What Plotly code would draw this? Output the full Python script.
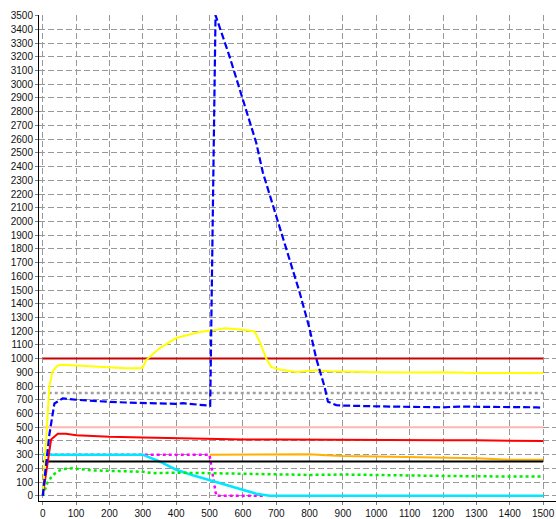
import plotly.graph_objects as go

# ---- data ----
limit_x = [0, 1500]
limit_1000 = [1000, 1000]
limit_750 = [750, 750]
limit_500 = [500, 500]
limit_250 = [250, 250]

orange_x = [500, 800, 850, 900, 1000, 1100, 1200, 1300, 1400, 1500]
orange_y = [300, 302, 295, 290, 286, 281, 278, 274, 262, 262]

magenta_x = [0, 300, 500, 503, 520, 660]
magenta_y = [300, 300, 300, 250, 0, 0]

cyan_x = [0, 300, 350, 400, 450, 500, 550, 600, 640, 680, 1500]
cyan_y = [300, 300, 250, 190, 150, 115, 75, 40, 15, 0, 0]

yellow_x = [0, 10, 20, 30, 45, 60, 100, 150, 200, 250, 290, 300, 310, 330, 350,
            400, 450, 470, 510, 545, 600, 635, 650, 670, 685, 710, 760, 820, 860,
            900, 1000, 1100, 1200, 1300, 1400, 1500]
yellow_y = [0, 450, 800, 910, 950, 956, 950, 945, 940, 930, 930, 935, 990, 1035, 1075,
            1150, 1185, 1194, 1206, 1222, 1211, 1198, 1125, 1000, 940, 920, 903, 915, 908,
            905, 900, 898, 900, 895, 897, 895]

blue_x = [0, 20, 35, 60, 100, 150, 200, 250, 300, 350, 400, 420, 450, 480, 502,
          518, 530, 560, 600, 640, 660, 700, 740, 770, 800, 820, 845, 855, 880, 900,
          1000, 1100, 1200, 1250, 1300, 1400, 1480, 1500]
blue_y = [0, 450, 673, 710, 700, 690, 685, 680, 678, 672, 670, 675, 668, 662, 656,
          3504, 3420, 3203, 2888, 2574, 2356, 2041, 1728, 1484, 1218, 1000, 794, 686, 661, 658,
          652, 650, 645, 650, 650, 650, 645, 642]

red_x = [0, 25, 45, 70, 100, 150, 200, 300, 400, 450, 500, 600, 700, 800, 900,
         1000, 1100, 1200, 1300, 1400, 1500]
red_y = [0, 410, 452, 452, 442, 435, 430, 425, 420, 415, 412, 410, 410, 410, 408,
         406, 405, 405, 404, 400, 400]

green_x = [0, 15, 30, 45, 60, 90, 150, 200, 300, 330, 400, 500, 600, 700, 800,
           900, 1000, 1100, 1200, 1300, 1400, 1500]
green_y = [0, 100, 150, 178, 195, 200, 185, 180, 175, 165, 168, 165, 160, 160, 152,
           155, 150, 147, 145, 142, 140, 140]

x_ticks = list(range(0, 1501, 100))
y_ticks = list(range(0, 3501, 100))

fig = go.Figure()

def add(x, y, color, width=2, dash="solid"):
    fig.add_trace(go.Scatter(x=x, y=y, mode="lines",
                             line=dict(color=color, width=width, dash=dash),
                             showlegend=False, hoverinfo="skip"))

add(limit_x, limit_1000, "#cc0000")
add(limit_x, limit_750, "#a0a0a0", width=2.5, dash="3px,3px")
add(limit_x, limit_500, "#ffb4b4")
add(orange_x, orange_y, "#ffb000")
add(magenta_x, magenta_y, "#ff00ff", width=2.5, dash="3px,3px")
add(cyan_x, cyan_y, "#00e8ff", width=2.5)
add(limit_x, limit_250, "#000000")
add(green_x, green_y, "#00ee00", width=2.5, dash="3px,3px")
add(red_x, red_y, "#ff0000")
add(yellow_x, yellow_y, "#ffff00")
add(blue_x, blue_y, "#0000ff", width=2.2, dash="7px,3px")

grid = dict(showgrid=True, gridcolor="#999999", gridwidth=1, griddash="6px,3px",
            showline=True, linecolor="#000000", linewidth=1,
            ticks="outside", ticklen=3, tickcolor="#808080",
            zeroline=False, tickfont=dict(family="Liberation Sans, Arial", size=10, color="#111111"))

fig.update_xaxes(range=[-11.2, 1538.7], tickvals=x_ticks, **grid)
fig.update_yaxes(range=[-38, 3505], tickvals=y_ticks, **grid)

fig.update_layout(width=556, height=519,
                  margin=dict(l=39, r=0, t=15, b=16, pad=0),
                  plot_bgcolor="#ffffff", paper_bgcolor="#ffffff")

fig.write_html("out.html")
